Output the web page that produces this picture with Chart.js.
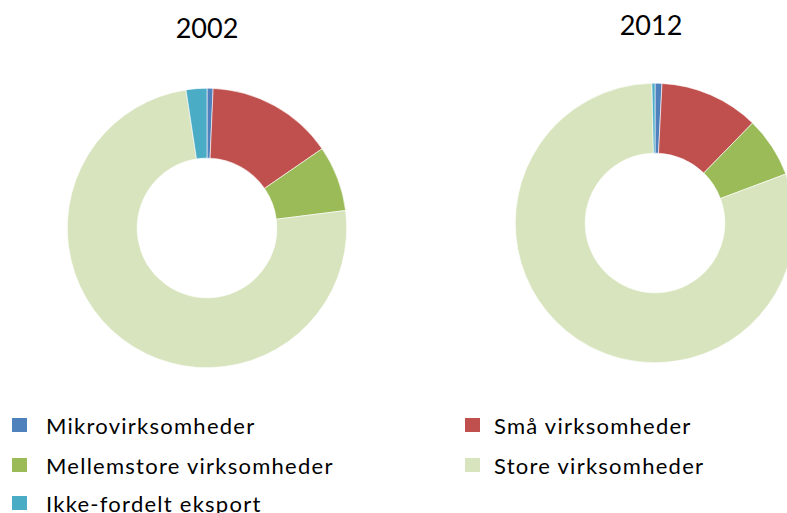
<!DOCTYPE html>
<html>
<head>
<meta charset="utf-8">
<script src="https://cdn.jsdelivr.net/npm/chart.js@4/dist/chart.umd.min.js"></script>
<style>
  html, body { margin: 0; padding: 0; background: #fff; width: 787px; height: 513px; overflow: hidden; }
  body { position: relative; font-family: Lato, "Open Sans", sans-serif; color: #000; }
  .title { position: absolute; font-size: 27px; text-align: center; width: 200px; }
  .wrap { position: absolute; width: 280px; height: 280px; }
  #legend { position: absolute; left: 0; top: 0; }
  .item { position: absolute; font-size: 22px; letter-spacing: 1.25px; white-space: nowrap; line-height: 26px; }
  .box { position: absolute; width: 15px; height: 14px; }
</style>
</head>
<body>
<div class="title" style="left:107px; top:11px;" id="t0"></div>
<div class="title" style="left:551px; top:8px;" id="t1"></div>
<div class="wrap" style="left:67px; top:88px;"><canvas id="c0" width="280" height="280"></canvas></div>
<div class="wrap" style="left:515px; top:83px;"><canvas id="c1" width="280" height="280"></canvas></div>
<div id="legend"></div>
<script>
const years = ["2002", "2012"];
const categories = ["Mikrovirksomheder", "Små virksomheder", "Mellemstore virksomheder", "Store virksomheder", "Ikke-fordelt eksport"];
const values2002 = [0.7, 14.7, 7.6, 74.6, 2.4];
const values2012 = [0.8, 11.5, 7.0, 80.35, 0.35];
const colors = ["#4F81BD", "#C0504D", "#9BBB59", "#D7E4BD", "#4BACC6"];

const series = [values2002, values2012];
series.forEach((vals, i) => {
  document.getElementById("t" + i).textContent = years[i];
  new Chart(document.getElementById("c" + i), {
    type: "doughnut",
    data: {
      labels: categories,
      datasets: [{ data: vals, backgroundColor: colors, borderWidth: 0.6, borderColor: "#ffffff", hoverOffset: 0 }]
    },
    options: {
      responsive: false,
      animation: false,
      cutout: "50%",
      layout: { padding: 0 },
      plugins: { legend: { display: false }, tooltip: { enabled: false } }
    }
  });
});

// legend built from arrays
const pos = [[12, 418, 46], [465, 418, 494], [12, 458, 46], [465, 458, 494], [12, 496, 46]];
const legend = document.getElementById("legend");
categories.forEach((name, i) => {
  const b = document.createElement("div");
  b.className = "box";
  b.style.left = pos[i][0] + "px";
  b.style.top = pos[i][1] + "px";
  b.style.background = colors[i];
  legend.appendChild(b);
  const t = document.createElement("div");
  t.className = "item";
  t.style.left = pos[i][2] + "px";
  t.style.top = (pos[i][1] - 5) + "px";
  t.textContent = name;
  legend.appendChild(t);
});
</script>
</body>
</html>
